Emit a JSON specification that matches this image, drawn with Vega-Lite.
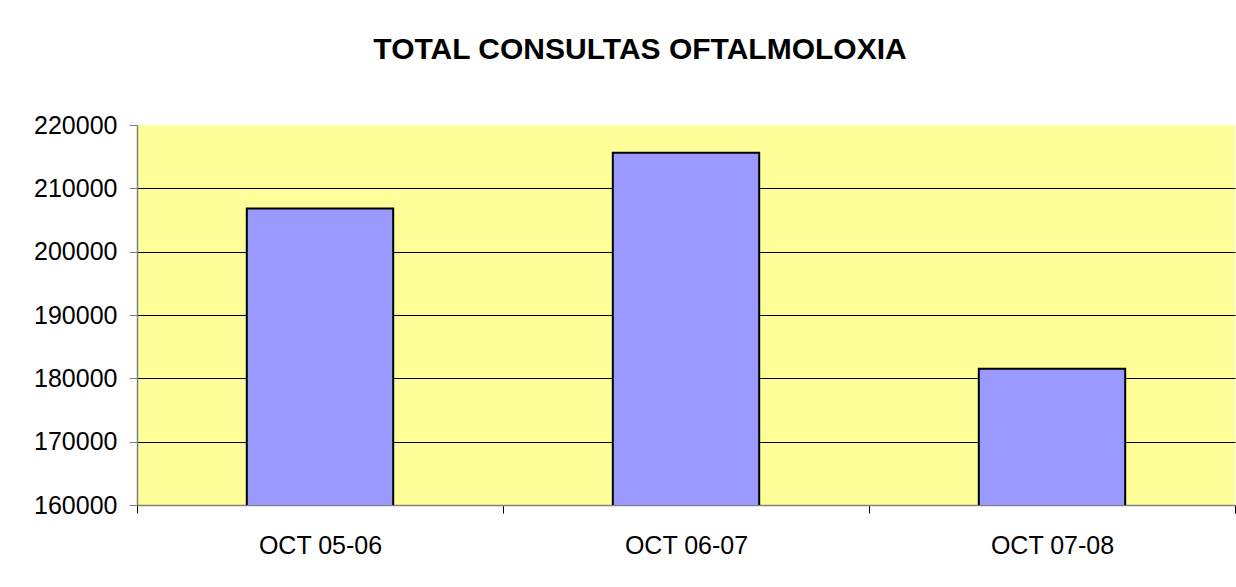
{
  "$schema": "https://vega.github.io/schema/vega-lite/v6.json",
  "width": 1098,
  "height": 380,
  "autosize": {"type": "none"},
  "padding": {"left": 137, "top": 125, "right": 1, "bottom": 82},
  "background": "#ffffff",
  "title": {
    "text": "TOTAL CONSULTAS OFTALMOLOXIA",
    "font": "Liberation Sans",
    "fontSize": 30,
    "fontWeight": "bold",
    "color": "#000000",
    "anchor": "middle",
    "frame": "group",
    "baseline": "alphabetic",
    "offset": 24,
    "dx": -46
  },
  "data": {
    "values": [
      {"periodo": "OCT 05-06", "consultas": 206800},
      {"periodo": "OCT 06-07", "consultas": 215600},
      {"periodo": "OCT 07-08", "consultas": 181500}
    ]
  },
  "mark": {"type": "bar", "fill": "#9999FF", "stroke": "#000000", "strokeWidth": 2, "clip": true, "width": {"band": 0.4}},
  "encoding": {
    "x": {
      "field": "periodo",
      "type": "nominal",
      "sort": null,
      "scale": {"paddingInner": 0, "paddingOuter": 0},
      "axis": {
        "title": null,
        "labelAngle": 0,
        "labelFont": "Liberation Sans",
        "labelFontSize": 25,
        "labelColor": "#000000",
        "labelPadding": 20,
        "tickBand": "extent",
        "tickSize": 8,
        "tickColor": "#000000",
        "domainColor": "#808080",
        "domainWidth": 1.5,
        "grid": false
      }
    },
    "y": {
      "field": "consultas",
      "type": "quantitative",
      "scale": {"domain": [160000, 220000], "nice": false, "zero": false},
      "axis": {
        "title": null,
        "values": [160000, 170000, 180000, 190000, 200000, 210000, 220000],
        "format": "d",
        "labelFont": "Liberation Sans",
        "labelFontSize": 25,
        "labelColor": "#000000",
        "labelPadding": 12,
        "tickSize": 8,
        "tickColor": "#808080",
        "domainColor": "#808080",
        "domainWidth": 1.5,
        "grid": true,
        "gridColor": {"condition": {"test": "datum.value >= 220000", "value": "transparent"}, "value": "#000000"},
        "gridWidth": 1
      }
    }
  },
  "config": {
    "view": {"fill": "#FFFF99", "stroke": null}
  }
}
